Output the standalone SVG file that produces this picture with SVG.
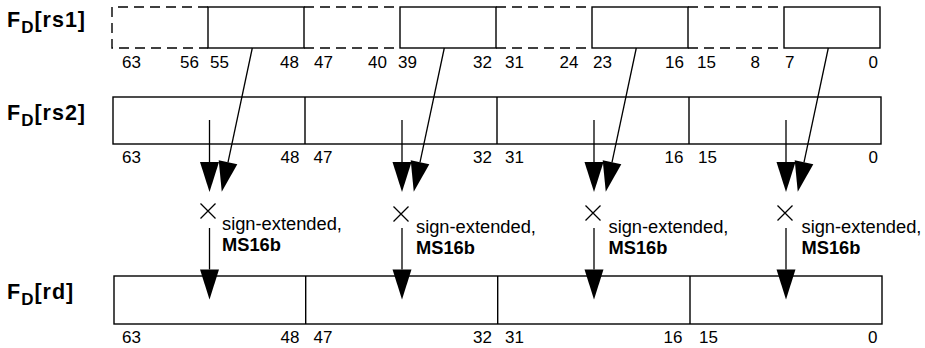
<svg xmlns="http://www.w3.org/2000/svg" width="925" height="348" viewBox="0 0 925 348">
<style>
.bx{fill:none;stroke:#000;stroke-width:1.4}
.ds{fill:none;stroke:#000;stroke-width:1.4;stroke-dasharray:10 6}
.ln{fill:none;stroke:#000;stroke-width:1.3}
.num{font-family:"Liberation Sans",Arial,sans-serif;font-size:17px;fill:#000}
.e{text-anchor:end}
.ttl{font-family:"Liberation Sans",Arial,sans-serif;font-size:21.5px;font-weight:bold;fill:#000;letter-spacing:1px}
.ann{font-family:"Liberation Sans",Arial,sans-serif;font-size:18.3px;fill:#000}
.b{font-weight:bold}
</style>
<defs>
<marker id="ah" markerUnits="userSpaceOnUse" markerWidth="31" markerHeight="20" refX="0" refY="9.5" orient="auto" overflow="visible">
<path d="M0,0 L30,9.5 L0,19 z" fill="#000"/>
</marker>
</defs>

<g id="rs1">
<text class="ttl" x="7" y="27">F<tspan font-size="17" dy="6">D</tspan><tspan dy="-6">[rs1]</tspan></text>
<path class="ds" d="M208,7 H112 V48 H208"/>
<path class="ds" d="M304,7 H400 M304,48 H400"/>
<path class="ds" d="M496,7 H592 M496,48 H592"/>
<path class="ds" d="M688,7 H784 M688,48 H784"/>
<rect class="bx" x="208" y="7" width="96" height="41"/>
<rect class="bx" x="400" y="7" width="96" height="41"/>
<rect class="bx" x="592" y="7" width="96" height="41"/>
<rect class="bx" x="784" y="7" width="96" height="41"/>
<g class="num">
<text x="122" y="68">63</text>
<text class="e" x="199" y="68">56</text>
<text x="210" y="68">55</text>
<text class="e" x="299" y="68">48</text>
<text x="314" y="68">47</text>
<text class="e" x="387" y="68">40</text>
<text x="398" y="68">39</text>
<text class="e" x="492" y="68">32</text>
<text x="505" y="68">31</text>
<text class="e" x="578.5" y="68">24</text>
<text x="593" y="68">23</text>
<text class="e" x="684" y="68">16</text>
<text x="697" y="68">15</text>
<text class="e" x="760" y="68">8</text>
<text x="785" y="68">7</text>
<text class="e" x="878" y="68">0</text>
</g>
</g>

<g id="rs2">
<text class="ttl" x="7" y="119.5">F<tspan font-size="17" dy="6">D</tspan><tspan dy="-6">[rs2]</tspan></text>
<rect class="bx" x="113" y="97" width="768" height="47"/>
<path class="bx" d="M305,97 V144 M497,97 V144 M689,97 V144"/>
<g class="num">
<text x="122" y="163">63</text>
<text class="e" x="299.5" y="163">48</text>
<text x="313.5" y="163">47</text>
<text class="e" x="492" y="163">32</text>
<text x="505" y="163">31</text>
<text class="e" x="683.5" y="163">16</text>
<text x="698" y="163">15</text>
<text class="e" x="878" y="163">0</text>
</g>
</g>

<g id="rd">
<text class="ttl" x="7" y="298.5">F<tspan font-size="17" dy="6">D</tspan><tspan dy="-6">[rd]</tspan></text>
<rect class="bx" x="114" y="276" width="768" height="48"/>
<path class="bx" d="M305.7,276 V324 M497.7,276 V324 M690,276 V324"/>
<g class="num">
<text x="122" y="343">63</text>
<text class="e" x="299.5" y="343">48</text>
<text x="313.5" y="343">47</text>
<text class="e" x="492" y="343">32</text>
<text x="505" y="343">31</text>
<text class="e" x="682.5" y="343">16</text>
<text x="699" y="343">15</text>
<text class="e" x="877.5" y="343">0</text>
</g>
</g>

<g id="ops">
<g id="op1">
<path class="ln" d="M200.5,203.5 L215.5,218.5 M215.5,203.5 L200.5,218.5"/>
<text class="ann" x="222" y="230">sign-extended,</text>
<text class="ann b" x="222" y="251">MS16b</text>
</g>
<g id="op2">
<path class="ln" d="M393.5,206.5 L408.5,221.5 M408.5,206.5 L393.5,221.5"/>
<text class="ann" x="416" y="233">sign-extended,</text>
<text class="ann b" x="416" y="254">MS16b</text>
</g>
<g id="op3">
<path class="ln" d="M585.5,205.5 L600.5,220.5 M600.5,205.5 L585.5,220.5"/>
<text class="ann" x="608.5" y="232.5">sign-extended,</text>
<text class="ann b" x="608.5" y="253.5">MS16b</text>
</g>
<g id="op4">
<path class="ln" d="M777.5,205.5 L792.5,220.5 M792.5,205.5 L777.5,220.5"/>
<text class="ann" x="801.5" y="232.5">sign-extended,</text>
<text class="ann b" x="801.5" y="253.5">MS16b</text>
</g>
</g>

<g id="connectors" class="ln" marker-end="url(#ah)">
<path d="M209.5,120 V162"/>
<path d="M252.3,48 L228,162.3"/>
<path d="M209.5,228 V269.5"/>
<path d="M402,120 V162"/>
<path d="M444.3,48 L420,162.3"/>
<path d="M402,228 V269.5"/>
<path d="M594,120 V162"/>
<path d="M636.3,48 L612,162.3"/>
<path d="M594,228 V269.5"/>
<path d="M786,120 V162"/>
<path d="M828.3,48 L804,162.3"/>
<path d="M786,228 V269.5"/>
</g>
</svg>
